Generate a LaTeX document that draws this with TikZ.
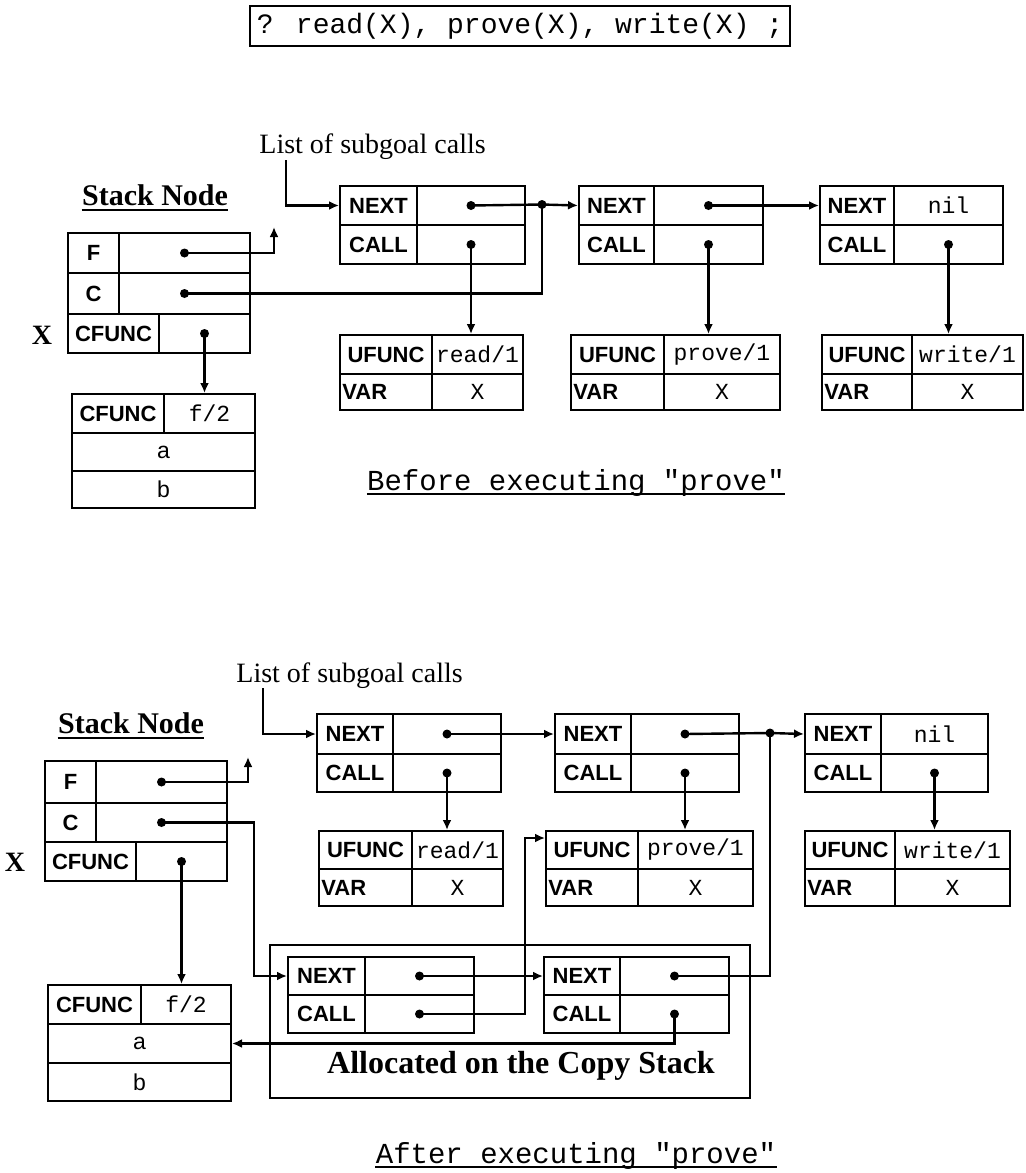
\documentclass[tikz,border=0pt]{standalone}
\usepackage{fontspec}
\usepackage{tikz}
\usetikzlibrary{arrows.meta,positioning}
\newfontfamily\lblfont{Liberation Sans}
\newfontfamily\valfont{Liberation Mono}
\newfontfamily\txtfont{Liberation Serif}
% field box: [opts]{name}{x1}{y1}{x2}{y2}{text}, coordinates in pixels
\newcommand\fbx[7][]{\node[fld,#1,minimum width={(#5-#3)*0.5pt},minimum height={(#6-#4)*0.5pt}] (#2) at (#3,#4) {#7};}

\begin{document}
\begin{tikzpicture}[x=0.5pt,y=-0.5pt,>=Latex,
  fld/.style={draw,line width=1pt,inner sep=0pt,anchor=north west,font=\lblfont\bfseries\fontsize{11}{13}\selectfont},
  val/.style={font=\valfont\fontsize{11.5}{13}\selectfont},
  sval/.style={font=\lblfont\fontsize{11.5}{13}\selectfont},
  lbl/.style={inner sep=0pt,font=\lblfont\bfseries\fontsize{11}{13}\selectfont},
  dot/.style={circle,fill,inner sep=0pt,minimum size=4.5pt},
  wire/.style={line width=1.2pt},
  ptr/.style={line width=1.2pt,-{Latex[length=5pt,width=4.5pt]}},
  capt/.style={inner sep=0pt,anchor=base,font=\valfont\fontsize{14.5}{16}\selectfont},
  head/.style={inner sep=0pt,anchor=base,font=\txtfont\bfseries\fontsize{15}{17}\selectfont},
  note/.style={inner sep=0pt,anchor=base west,font=\txtfont\fontsize{14}{16}\selectfont},
  rowmark/.style={inner sep=0pt,font=\txtfont\bfseries\fontsize{14}{16}\selectfont}]
\useasboundingbox (0,0) rectangle (1026,1173);

% query
\node[draw,line width=1pt,minimum width=265pt,minimum height=20pt,font=\valfont\fontsize{14}{16}\selectfont] (query) at (520,26) {? read(X), prove(X), write(X) ;};

%%%%% before executing prove
\node[note] (tlist) at (259,153) {List of subgoal calls};
\coordinate (tin) at (286,160);
\node[head] (tstack) at (155,205) {Stack Node};
\draw[wire] ([yshift=-2.5pt]tstack.base west) -- ([yshift=-2.5pt]tstack.base east);
\fbx{tF}{67}{232}{118}{272}{F}
\fbx{tFv}{118}{232}{249}{272}{}
\fbx{tC}{67}{272}{118}{313}{C}
\fbx{tCv}{118}{272}{249}{313}{}
\fbx{tX}{67}{313}{158}{352}{CFUNC}
\fbx{tXv}{158}{313}{249}{352}{}
\node[rowmark] (tmark) at (42,335) {X};
\fbx{tfu}{71}{393}{163}{432}{CFUNC}
\fbx[val]{tfn}{163}{393}{254}{432}{f/2}
\fbx[sval]{tfa}{71}{432}{254}{470}{a}
\fbx[sval]{tfb}{71}{470}{254}{507}{b}
\foreach \n/\xa/\xb/\xc/\v/\ua/\ub/\uc/\f in {t1/339/416/524/{}/339/431/522/{read/1},
    t2/578/653/762/{}/570/663/779/{prove/1}, t3/819/893/1002/nil/821/911/1022/{write/1}}{
  \fbx{\n a}{\xa}{185}{\xb}{224}{NEXT}
  \fbx[val]{\n v}{\xb}{185}{\xc}{224}{\v}
  \fbx{\n c}{\xa}{224}{\xb}{263}{CALL}
  \fbx{\n w}{\xb}{224}{\xc}{263}{}
  \fbx{\n u}{\ua}{334}{\ub}{373}{UFUNC}
  \fbx[val]{\n f}{\ub}{334}{\uc}{373}{\f}
  \fbx{\n r}{\ua}{373}{\ub}{409}{}
  \node[lbl,anchor=west] (\n rt) at ([xshift=1.5pt]\n r.west) {VAR};
  \fbx[val]{\n x}{\ub}{373}{\uc}{409}{X}
  \node[dot] (\n q) at (\n w.center) {};
  \draw[ptr] (\n q.center) -- (\n q.center |- \n u.north);
}
\node[dot] (tFp) at (tFv.center) {};
\node[dot] (tCp) at (tCv.center) {};
\node[dot] (tXp) at (tXv.center) {};
\node[dot] (t1p) at (t1v.center) {};
\node[dot] (t2p) at (t2v.center) {};
\node[dot] (tj) at (542,204.5) {};
\coordinate (tFup) at (274,227);
\draw[ptr] (tin) |- (t1a.west);
\draw[ptr] (tFp.center) -| (tFup);
\draw[wire] (tCp.center) -| (tj.center);
\draw[ptr] (tXp.center) -- (tXp.center |- tfu.north);
\draw[wire] (t1p.center) -- (tj.center);
\draw[ptr] (tj.center) -- (t2a.west);
\draw[ptr] (t2p.center) -- (t3a.west);
\node[capt] (tcap) at (576,490) {Before executing "prove"};
\draw[wire] ([yshift=-2pt]tcap.base west) -- ([yshift=-2pt]tcap.base east);

%%%%% after executing prove
\node[note] (blist) at (236,682) {List of subgoal calls};
\coordinate (bin) at (263,688);
\node[head] (bstack) at (131,733) {Stack Node};
\draw[wire] ([yshift=-2.5pt]bstack.base west) -- ([yshift=-2.5pt]bstack.base east);
\fbx{bF}{44}{760}{95}{802}{F}
\fbx{bFv}{95}{760}{226}{802}{}
\fbx{bC}{44}{802}{95}{841}{C}
\fbx{bCv}{95}{802}{226}{841}{}
\fbx{bX}{44}{841}{135}{880}{CFUNC}
\fbx{bXv}{135}{841}{226}{880}{}
\node[rowmark] (bmark) at (15,862) {X};
\fbx{bfu}{47}{984}{140}{1023}{CFUNC}
\fbx[val]{bfn}{140}{984}{230}{1023}{f/2}
\fbx[sval]{bfa}{47}{1023}{230}{1062}{a}
\fbx[sval]{bfb}{47}{1062}{230}{1100}{b}
\foreach \n/\xa/\xb/\xc/\v/\ua/\ub/\uc/\f in {b1/316/392/500/{}/318/411/502/{read/1},
    b2/554/630/738/{}/545/637/752/{prove/1}, b3/804/880/987/nil/804/894/1009/{write/1}}{
  \fbx{\n a}{\xa}{713}{\xb}{753}{NEXT}
  \fbx[val]{\n v}{\xb}{713}{\xc}{753}{\v}
  \fbx{\n c}{\xa}{753}{\xb}{791}{CALL}
  \fbx{\n w}{\xb}{753}{\xc}{791}{}
  \fbx{\n u}{\ua}{830}{\ub}{868}{UFUNC}
  \fbx[val]{\n f}{\ub}{830}{\uc}{868}{\f}
  \fbx{\n r}{\ua}{868}{\ub}{905}{}
  \node[lbl,anchor=west] (\n rt) at ([xshift=1.5pt]\n r.west) {VAR};
  \fbx[val]{\n x}{\ub}{868}{\uc}{905}{X}
  \node[dot] (\n q) at (\n w.center) {};
  \draw[ptr] (\n q.center) -- (\n q.center |- \n u.north);
}
% copy stack
\fbx[line width=0.8pt]{cstk}{269}{944}{749}{1097}{}
\node[head,font=\txtfont\bfseries\fontsize{16}{18}\selectfont] (calloc) at (521,1073) {Allocated on the Copy Stack};
\foreach \n/\xa/\xb/\xc in {c1/287/364/473, c2/543/619/728}{
  \fbx{\n a}{\xa}{956}{\xb}{994}{NEXT}
  \fbx{\n v}{\xb}{956}{\xc}{994}{}
  \fbx{\n c}{\xa}{994}{\xb}{1032}{CALL}
  \fbx{\n w}{\xb}{994}{\xc}{1032}{}
  \node[dot] (\n p) at (\n v.center) {};
  \node[dot] (\n q) at (\n w.center) {};
}
\node[dot] (bFp) at (bFv.center) {};
\node[dot] (bCp) at (bCv.center) {};
\node[dot] (bXp) at (bXv.center) {};
\node[dot] (b1p) at (b1v.center) {};
\node[dot] (b2p) at (b2v.center) {};
\node[dot] (bj) at (770,733) {};
\coordinate (bFup) at (248,757);
\draw[ptr] (bin) |- (b1a.west);
\draw[ptr] (bFp.center) -| (bFup);
\draw[ptr] (bCp.center) -| ([xshift=-16.5pt]c1a.west) -- (c1a.west);
\draw[ptr] (bXp.center) -- (bXp.center |- bfu.north);
\draw[ptr] (b1p.center) -- (b2a.west);
\draw[wire] (b2p.center) -- (bj.center);
\draw[ptr] (bj.center) -- (b3a.west);
\draw[ptr] (c1p.center) -- (c2a.west);
\draw[ptr] (c1q.center) -| ([xshift=-10pt,yshift=6pt]b2u.west) -- ([yshift=6pt]b2u.west);
\draw[wire] (c2p.center) -| (bj.center);
\draw[ptr] (c2q.center) |- (bfa.east);
\node[capt] (bcap) at (576,1163) {After executing "prove"};
\draw[wire] ([yshift=-2pt]bcap.base west) -- ([yshift=-2pt]bcap.base east);
\end{tikzpicture}
\end{document}
